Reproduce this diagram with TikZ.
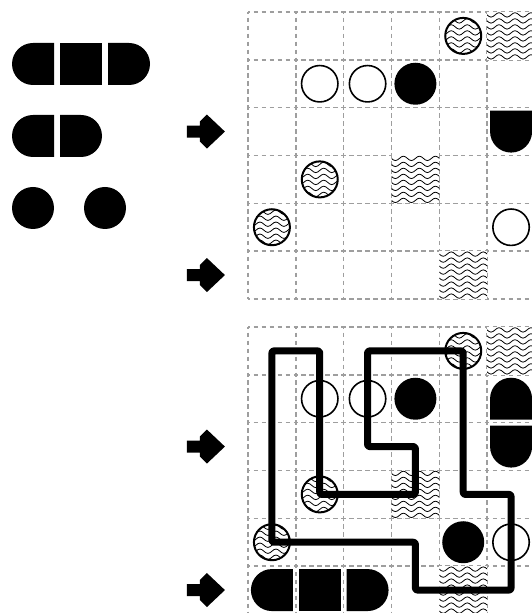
\documentclass[tikz,border=0pt]{standalone}
\tikzset{
  gridline/.style={draw=black!38, line width=1.4pt, dash pattern=on 4.6pt off 3.37pt, dash phase=2.3pt},
  wave/.style={line width=0.8pt},
  looppath/.style={line width=7pt, line join=round, rounded corners=2pt},
  opencirc/.style={draw, line width=1.6pt, fill=white},
  hatchcirc/.style={draw, line width=2pt},
  piece/.style={fill=black},
}
\newcommand\wavesat[1]{%
  \foreach \k in {0,...,9}{
    \draw[wave] ([shift={(-32,{27-6*\k})}]#1) \foreach \p in {1,...,5}{ sin ++(4,2.2) cos ++(4,-2.2) sin ++(4,-2.2) cos ++(4,2.2)};
  }}
\newcommand\wavysquare[1]{%
  \begin{scope}
    \fill[white] ([shift={(-23.9,-23.9)}]#1) rectangle ([shift={(23.9,23.9)}]#1);
    \clip ([shift={(-23.9,-23.9)}]#1) rectangle ([shift={(23.9,23.9)}]#1);
    \wavesat{#1}
  \end{scope}}
\newcommand\wavycircle[1]{%
  \begin{scope}
    \fill[white] (#1) circle (18);
    \clip (#1) circle (18);
    \wavesat{#1}
  \end{scope}
  \draw[hatchcirc] (#1) circle (18);}
\newcommand\opencircle[1]{\draw[opencirc] (#1) circle (18.2);}
\newcommand\fullcircle[1]{\fill (#1) circle (21);}
\newcommand\pieceL[1]{\fill[piece,shift={(#1)}] (21,21) -- (0,21) arc[start angle=90,end angle=270,radius=21] -- (21,-21) -- cycle;}
\newcommand\pieceR[1]{\fill[piece,shift={(#1)}] (-21,-21) -- (0,-21) arc[start angle=-90,end angle=90,radius=21] -- (-21,21) -- cycle;}
\newcommand\pieceT[1]{\fill[piece,shift={(#1)}] (-21,-21) -- (-21,0) arc[start angle=180,end angle=0,radius=21] -- (21,-21) -- cycle;}
\newcommand\pieceB[1]{\fill[piece,shift={(#1)}] (21,21) -- (21,0) arc[start angle=0,end angle=-180,radius=21] -- (-21,21) -- cycle;}
\newcommand\pieceS[1]{\fill[piece,shift={(#1)}] (-21.2,-21) rectangle (21.2,21);}
\newcommand\bigarrow[1]{\fill[shift={(#1)}] (-19,6) -- (-6,6) -- (-6,10) -- (1,17) -- (19,0) -- (1,-17) -- (-6,-10) -- (-6,-6) -- (-19,-6) -- cycle;}
\begin{document}
\begin{tikzpicture}[x=1pt,y=1pt]
\useasboundingbox (0,0) rectangle (532,613);
\clip (0,0) rectangle (532,613);
% cell centres
\foreach \c in {0,...,5}{
  \foreach \r in {0,...,5}{
    \coordinate (t-\c-\r) at ({248+47.83*(\c+0.5)},{601-47.83*(\r+0.5)});
    \coordinate (b-\c-\r) at ({248+47.83*(\c+0.5)},{286-47.83*(\r+0.5)});
  }}
% grids
\foreach \i in {0,...,6}{
  \draw[gridline] ({248+47.83*\i},601) -- ++(0,-287);
  \draw[gridline] (248,{601-47.83*\i}) -- ++(287,0);
  \draw[gridline] ({248+47.83*\i},286) -- ++(0,-287);
  \draw[gridline] (248,{286-47.83*\i}) -- ++(287,0);
}
% legend
\coordinate (l1a) at (33,549); \coordinate (l1b) at (81,549); \coordinate (l1c) at (129,549);
\coordinate (l2a) at (33,477); \coordinate (l2b) at (81,477);
\coordinate (l3a) at (33,405); \coordinate (l3b) at (105,405);
\pieceL{l1a} \pieceS{l1b} \pieceR{l1c}
\pieceL{l2a} \pieceR{l2b}
\fullcircle{l3a} \fullcircle{l3b}
% arrows
\coordinate (a1) at ([xshift=-66pt]t-0-2);
\coordinate (a2) at ([xshift=-66pt]t-0-5);
\coordinate (a3) at ([xshift=-66pt]b-0-2);
\coordinate (a4) at ([xshift=-66pt]b-0-5);
\bigarrow{a1} \bigarrow{a2} \bigarrow{a3} \bigarrow{a4}
% top grid
\wavysquare{t-5-0} \wavysquare{t-3-3} \wavysquare{t-4-5}
\wavycircle{t-4-0} \wavycircle{t-1-3} \wavycircle{t-0-4}
\opencircle{t-1-1} \opencircle{t-2-1} \opencircle{t-5-4}
\fullcircle{t-3-1}
\pieceB{t-5-2}
% bottom grid
\wavysquare{b-5-0} \wavysquare{b-3-3} \wavysquare{b-4-5}
\wavycircle{b-4-0} \wavycircle{b-1-3} \wavycircle{b-0-4}
\opencircle{b-1-1} \opencircle{b-2-1} \opencircle{b-5-4}
\fullcircle{b-3-1} \fullcircle{b-4-4}
\pieceT{b-5-1} \pieceB{b-5-2}
\pieceL{b-0-5} \pieceS{b-1-5} \pieceR{b-2-5}
% loop
\draw[looppath] (b-0-0) -- (b-1-0) -- (b-1-3) -- (b-3-3) -- (b-3-2) -- (b-2-2) -- (b-2-0) -- (b-4-0) -- (b-4-3) -- (b-5-3) -- (b-5-5) -- (b-3-5) -- (b-3-4) -- (b-0-4) -- cycle;
\end{tikzpicture}
\end{document}
